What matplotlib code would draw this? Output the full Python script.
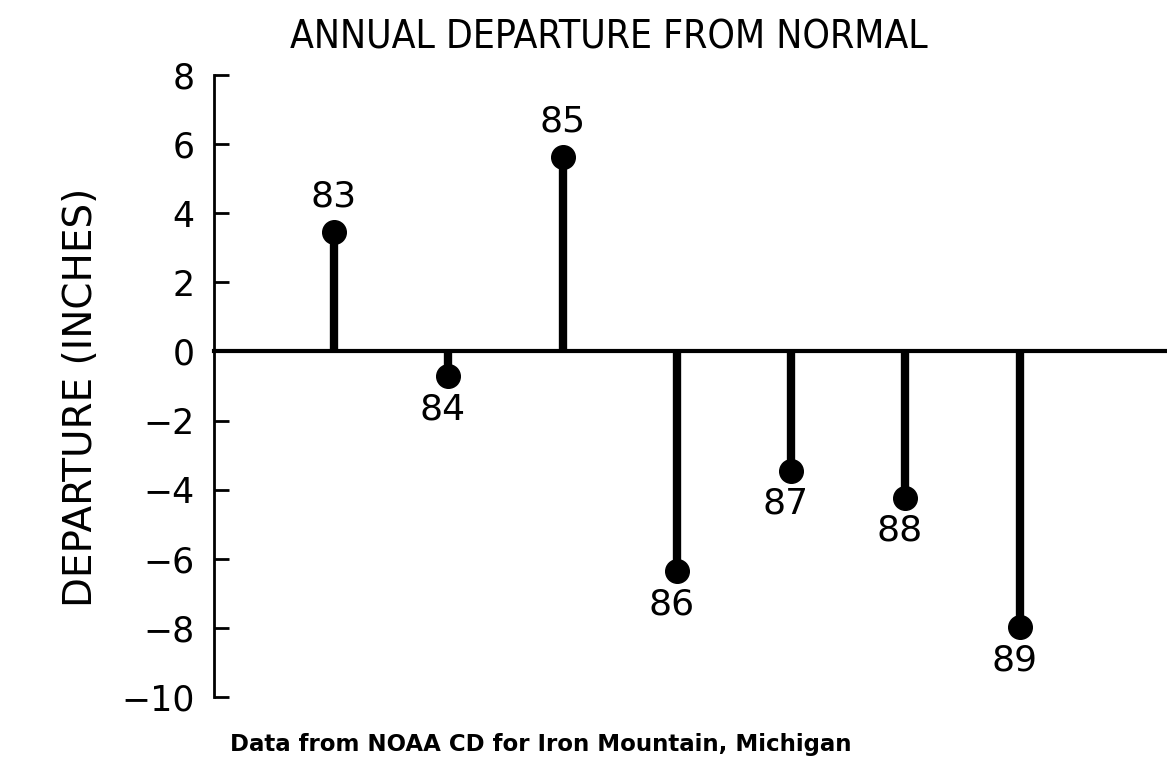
import matplotlib.pyplot as plt

years = [83, 84, 85, 86, 87, 88, 89]
departure = [3.45, -0.72, 5.62, -6.35, -3.45, -4.23, -7.97]
year_labels = ['83', '84', '85', '86', '87', '88', '89']
yticks = [8, 6, 4, 2, 0, -2, -4, -6, -8, -10]

fig = plt.figure(figsize=(11.67, 7.58), dpi=100)
ax = fig.add_axes([0.1834, 0.0805, 0.8166, 0.8205])

# stems from zero to each value
ax.vlines(years, 0, departure, colors='black', linewidth=6)
ax.plot(years, departure, 'o', color='black', markersize=17)
ax.axhline(0, color='black', linewidth=3, clip_on=False)

for x, y, lab in zip(years, departure, year_labels):
    off = 26 if y > 0 else -24
    ax.annotate(lab, (x, y), xytext=(-4 if y < 0 else 0, off), textcoords='offset points',
                ha='center', va='center', fontsize=26)

ax.set_xlim(81.95, 90.29)
ax.set_ylim(-10, 8)
ax.set_yticks(yticks)
ax.set_xticks([])
ax.tick_params(axis='y', direction='in', length=11, width=2, pad=14, labelsize=25)
for s in ['top', 'right', 'bottom']:
    ax.spines[s].set_visible(False)
ax.spines['left'].set_linewidth(2)

fig.text(0.522, 0.951, 'ANNUAL DEPARTURE FROM NORMAL', ha='center', va='center',
         fontsize=28, fontstretch='condensed')
fig.text(0.069, 0.476, 'DEPARTURE (INCHES)', rotation=90, ha='center', va='center',
         fontsize=28)
fig.text(0.463, 0.018, 'Data from NOAA CD for Iron Mountain, Michigan', ha='center',
         va='center', fontsize=16.5, fontweight='bold')

fig.savefig('out.png', dpi=100)
